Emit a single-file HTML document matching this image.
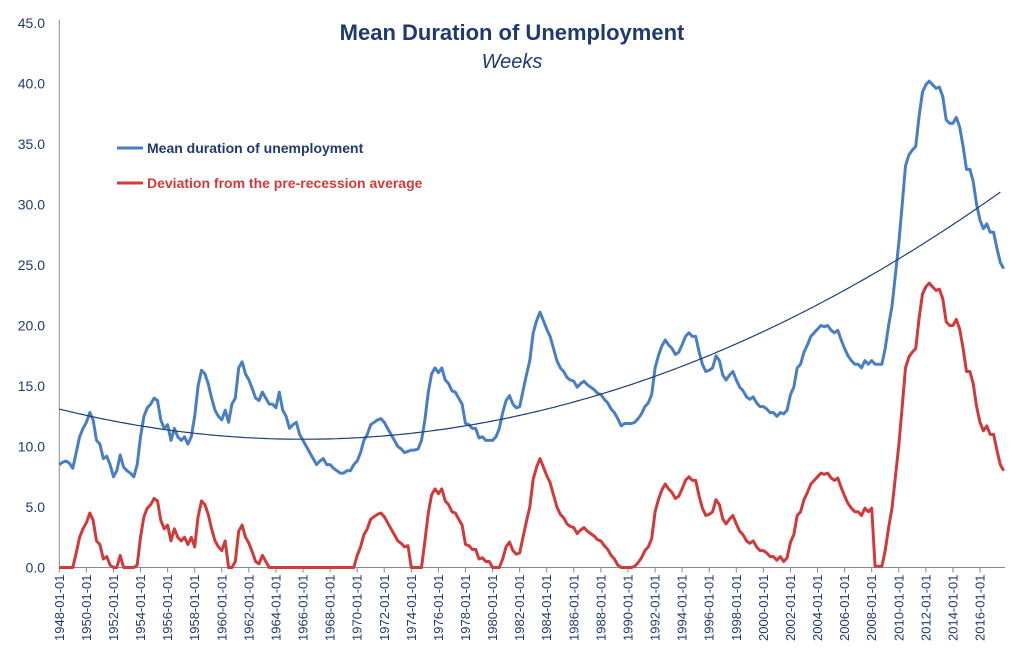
<!DOCTYPE html>
<html><head><meta charset="utf-8"><style>
html,body{margin:0;padding:0;background:#fff;}
svg{display:block;font-family:"Liberation Sans",sans-serif;}
</style></head><body>
<svg id="chart" width="1023" height="665" viewBox="0 0 1023 665">
<text x="512" y="40" text-anchor="middle" font-size="22" font-weight="bold" fill="#1F3A70">Mean Duration of Unemployment</text>
<text x="512" y="68" text-anchor="middle" font-size="20" font-style="italic" fill="#1F3A70">Weeks</text>
<g id="yaxis"></g>
<g id="xaxis"></g>
<g id="series"></g>
<g>
<line x1="117" y1="148" x2="143" y2="148" stroke="#4A7EC3" stroke-width="3"/>
<text x="147" y="153" font-size="14" font-weight="bold" fill="#1F3A70">Mean duration of unemployment</text>
<line x1="117" y1="183" x2="143" y2="183" stroke="#D03A3A" stroke-width="3"/>
<text x="147" y="188" font-size="14" font-weight="bold" fill="#D03A3A">Deviation from the pre-recession average</text>
</g>
</svg>
<script>
const startYear = 1948;
const yTicks = [0,5,10,15,20,25,30,35,40,45];
const xTickYears = [1948,1950,1952,1954,1956,1958,1960,1962,1964,1966,1968,1970,1972,1974,1976,1978,1980,1982,1984,1986,1988,1990,1992,1994,1996,1998,2000,2002,2004,2006,2008,2010,2012,2014,2016];
// quarterly mean duration (weeks), from 1948 Q1
const meanDuration = [
8.5,8.7,8.8,8.6, 8.2,9.5,10.8,11.5, 12.0,12.8,12.2,10.5, 10.2,9.0,9.2,8.5,
7.5,8.0,9.3,8.3, 8.0,7.8,7.5,8.5, 10.8,12.5,13.2,13.5, 14.0,13.8,12.2,11.5,
11.8,10.5,11.5,10.8, 10.5,10.8,10.2,10.8, 12.5,15.0,16.3,16.0, 15.2,14.0,13.0,12.5,
12.2,13.0,12.0,13.5, 14.0,16.5,17.0,16.0, 15.5,14.8,14.0,13.8, 14.5,14.0,13.5,13.5,
13.2,14.5,13.0,12.5, 11.5,11.8,12.0,11.0, 10.5,10.0,9.5,9.0, 8.5,8.8,9.0,8.5,
8.5,8.2,8.0,7.8, 7.8,8.0,8.0,8.5, 8.8,9.5,10.5,11.0, 11.8,12.0,12.2,12.3,
12.0,11.5,11.0,10.5, 10.0,9.8,9.5,9.6, 9.7,9.7,9.8,10.5, 12.2,14.5,16.0,16.5,
16.1,16.5,15.5,15.2, 14.6,14.5,14.0,13.5, 11.9,11.8,11.5,11.5, 10.7,10.8,10.5,10.5,
10.5,10.8,11.5,12.8, 13.8,14.2,13.5,13.2, 13.3,14.6,15.9,17.1, 19.4,20.4,21.1,20.4,
19.7,19.1,18.1,17.1, 16.5,16.2,15.7,15.5, 15.4,14.9,15.2,15.4, 15.1,14.9,14.7,14.4,
14.3,13.9,13.6,13.1, 12.8,12.3,11.7,11.9, 11.9,11.9,12.0,12.3, 12.7,13.3,13.6,14.3,
16.5,17.5,18.3,18.8, 18.4,18.1,17.6,17.8, 18.4,19.1,19.4,19.1, 19.1,17.8,16.8,16.2,
16.3,16.5,17.5,17.1, 15.9,15.5,15.9,16.2, 15.5,14.9,14.6,14.1, 13.9,14.1,13.6,13.3,
13.3,13.1,12.8,12.8, 12.5,12.8,12.7,13.0, 14.3,14.9,16.5,16.8, 17.8,18.4,19.1,19.4,
19.7,20.0,19.9,20.0, 19.6,19.4,19.6,18.8, 18.1,17.5,17.1,16.8, 16.8,16.5,17.1,16.8,
17.1,16.8,16.8,16.8, 18.1,20.0,21.6,24.2, 26.8,30.0,33.2,34.1, 34.5,34.8,37.3,39.3,
39.9,40.2,39.9,39.6, 39.7,38.9,37.0,36.7, 36.7,37.2,36.4,34.8, 32.9,32.9,31.9,30.0,
28.7,28.0,28.4,27.7, 27.7,26.4,25.2,24.7
];
// pre-recession average segments: [startYear, endYear, average]
const segStart = [1949.0,1953.6,1958.0,1960.9,1969.8,1975.0,1980.4,1990.0,2001.5,2008.2];
const segEnd   = [1952.9,1957.9,1960.5,1963.5,1973.9,1979.9,1990.0,2001.5,2008.1,2018.0];
const segAvg   = [8.3,8.3,10.8,13.5,7.8,10.0,12.1,11.9,12.2,16.7];
// quadratic trend: a*(t-h)^2 + k, t = years since 1948
const trendCoef = [0.0077, 18.0, 10.6];

const NS='http://www.w3.org/2000/svg';
const X0=59.3, PXY=13.54, Y0=567.5, PXV=12.1;
const xs=y=>X0+(y-startYear)*PXY;
const ys=v=>Y0-v*PXV;
function mk(tag,attrs,parent){const e=document.createElementNS(NS,tag);for(const k in attrs)e.setAttribute(k,attrs[k]);parent.appendChild(e);return e;}
const yg=document.getElementById('yaxis'), xg=document.getElementById('xaxis'), sg=document.getElementById('series');

const yl=mk('line',{x1:X0,y1:ys(45)-3,x2:X0,y2:Y0,stroke:'#888','stroke-width':1},yg);


yTicks.forEach(v=>{
  const t=mk('text',{x:45,y:ys(v)+5,'text-anchor':'end','font-size':14,fill:'#1F3A70'},yg);
  t.textContent=v.toFixed(1);
  
  
});
const xl=mk('line',{x1:X0,y1:Y0,x2:1005,y2:Y0,stroke:'#888','stroke-width':1},xg);


xTickYears.forEach(yr=>{
  const x=xs(yr);
  const tk=mk('line',{x1:x,y1:Y0,x2:x,y2:Y0+5,stroke:'#888','stroke-width':1},xg);
  
  
  const t=mk('text',{x:0,y:0,'text-anchor':'end','font-size':13,fill:'#1F3A70',transform:`translate(${x+4.5},${Y0+7}) rotate(-90)`},xg);
  t.textContent=yr+'-01-01';
  
  
});

function yearOf(i){return startYear+i*0.25;}
function dev(i){
  const yr=yearOf(i);
  for(let s=0;s<segStart.length;s++){
    if(yr>=segStart[s]&&yr<segEnd[s]) return Math.max(0,meanDuration[i]-segAvg[s]);
  }
  return 0;
}
let tp='';
for(let yr=startYear; yr<=2017.5; yr+=0.25){
  const t=yr-startYear, v=trendCoef[0]*(t-trendCoef[1])**2+trendCoef[2];
  tp+=(tp?'L':'M')+xs(yr).toFixed(1)+','+ys(v).toFixed(1);
}
let bp='', rp='';
meanDuration.forEach((v,i)=>{
  const x=xs(yearOf(i)).toFixed(1);
  bp+=(i?'L':'M')+x+','+ys(v).toFixed(1);
  rp+=(i?'L':'M')+x+','+ys(dev(i)).toFixed(1);
});
const red=mk('path',{d:rp,fill:'none',stroke:'#D03A3A','stroke-width':3,'stroke-linejoin':'round'},sg);


const blue=mk('path',{d:bp,fill:'none',stroke:'#4A7EC3','stroke-width':3,'stroke-linejoin':'round'},sg);


const tr=mk('path',{d:tp,fill:'none',stroke:'#1F3F7A','stroke-width':1.2},sg);


</script>
</body></html>
